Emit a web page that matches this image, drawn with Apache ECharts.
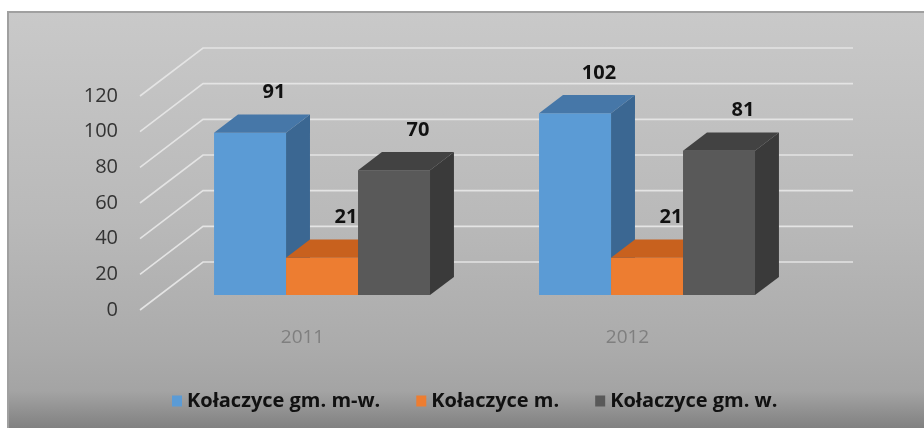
<!DOCTYPE html>
<html>
<head>
<meta charset="utf-8">
<script src="https://cdn.jsdelivr.net/npm/echarts@6/dist/echarts.min.js"></script>
<style>
  html, body { margin: 0; padding: 0; background: #fff; }
  #main { width: 924px; height: 428px; }
</style>
</head>
<body>
<div id="main"></div>
<script>
// dane
var years = ['2011', '2012'];
var seriesNames = ['Kołaczyce gm. m-w.', 'Kołaczyce m.', 'Kołaczyce gm. w.'];
var valuesGmMW = [91, 102];
var valuesMiasto = [21, 21];
var valuesGmW = [70, 81];
var yTicks = [0, 20, 40, 60, 80, 100, 120];

// kolory: przod, gora, bok
var faceColors = [
  ['#5b9bd5', '#4677a8', '#3b6792'],
  ['#ed7d31', '#c8611e', '#b4561b'],
  ['#595959', '#424242', '#3a3a3a']
];

// wektor glebokosci (piksele) dla calej sciany
var DEPTH_X = 63, DEPTH_Y = -48;
var BAR_FRONT = 0.31, BAR_DEPTH = 0.38;
var BAR_W = 0.2215; // szerokosc slupka jako czesc pasma kategorii

function wallItem(params, api) {
  var v = api.value(0);
  var p = api.coord([0, v]);
  var band = api.size([1, 0])[0];
  var left = p[0] - band / 2;
  var right = left + band * years.length;
  return {
    type: 'polyline',
    shape: { points: [[left, p[1]], [left + DEPTH_X, p[1] + DEPTH_Y], [right + DEPTH_X, p[1] + DEPTH_Y]] },
    style: { stroke: '#e4e4e4', lineWidth: 1.6, fill: null }
  };
}

function makeBarRender(idx) {
  return function (params, api) {
    var cat = api.value(0);
    var val = api.value(1);
    var base = api.coord([cat, 0]);
    var topP = api.coord([cat, val]);
    var band = api.size([1, 0])[0];
    var w = band * BAR_W;
    var fx = DEPTH_X * BAR_FRONT, fy = DEPTH_Y * BAR_FRONT;
    var bx = DEPTH_X * BAR_DEPTH, by = DEPTH_Y * BAR_DEPTH;
    var l = base[0] - 1.5 * w + idx * w + fx;
    var r = l + w;
    var b = base[1] + fy;
    var t = topP[1] + fy;
    var c = faceColors[idx];
    return {
      type: 'group',
      children: [
        { type: 'polygon', shape: { points: [[r, t], [r + bx, t + by], [r + bx, b + by], [r, b]] }, style: { fill: c[2] } },
        { type: 'rect', shape: { x: l, y: t, width: w, height: b - t }, style: { fill: c[0] } },
        { type: 'polygon', shape: { points: [[l, t], [r, t], [r + bx, t + by], [l + bx, t + by]] }, style: { fill: c[1] } },
        { type: 'text', style: { text: String(val), x: l + w / 2 + bx, y: t + by - 22, align: 'center', verticalAlign: 'middle',
            fill: '#111', font: 'bold 20px "Open Sans", sans-serif' } }
      ]
    };
  };
}

function barData(arr) {
  return arr.map(function (v, i) { return [i, v]; });
}

var chart = echarts.init(document.getElementById('main'));
chart.setOption({
  animation: false,
  graphic: [{
    type: 'rect', z: -10, silent: true,
    shape: { x: 8, y: 12, width: 924, height: 420 },
    style: {
      fill: new echarts.graphic.LinearGradient(0, 0, 0, 1, [
        { offset: 0, color: '#c9c9c9' },
        { offset: 0.5, color: '#b9b9b9' },
        { offset: 0.8, color: '#ababab' },
        { offset: 0.9, color: '#a4a4a4' },
        { offset: 1, color: '#7c7c7c' }
      ]),
      stroke: '#a0a0a0', lineWidth: 2
    }
  }],
  grid: { left: 140, right: 134, top: 96, bottom: 118 },
  legend: {
    data: seriesNames,
    left: 167, top: 386,
    itemWidth: 10, itemHeight: 11, itemGap: 36,
    icon: 'rect',
    textStyle: { color: '#111', fontSize: 20, fontWeight: 'bold', fontFamily: 'Open Sans' }
  },
  xAxis: {
    type: 'category', data: years,
    axisLine: { show: false }, axisTick: { show: false },
    axisLabel: { color: '#7f7f7f', fontSize: 19, margin: 18, fontFamily: 'Open Sans' }
  },
  yAxis: {
    type: 'value', min: 0, max: 120, interval: 20,
    axisLine: { show: false }, axisTick: { show: false }, splitLine: { show: false },
    axisLabel: { color: '#333', fontSize: 20, margin: 22, fontFamily: 'Open Sans' }
  },
  series: [
    { type: 'custom', name: 'walls', silent: true, data: yTicks.map(function (v) { return [v]; }),
      renderItem: wallItem, encode: { y: 0 }, z: 1 },
    { type: 'custom', name: seriesNames[0], itemStyle: { color: faceColors[0][0] }, data: barData(valuesGmMW), renderItem: makeBarRender(0), encode: { x: 0, y: 1 }, z: 2 },
    { type: 'custom', name: seriesNames[1], itemStyle: { color: faceColors[1][0] }, data: barData(valuesMiasto), renderItem: makeBarRender(1), encode: { x: 0, y: 1 }, z: 2 },
    { type: 'custom', name: seriesNames[2], itemStyle: { color: faceColors[2][0] }, data: barData(valuesGmW), renderItem: makeBarRender(2), encode: { x: 0, y: 1 }, z: 2 }
  ]
});
</script>
</body>
</html>
